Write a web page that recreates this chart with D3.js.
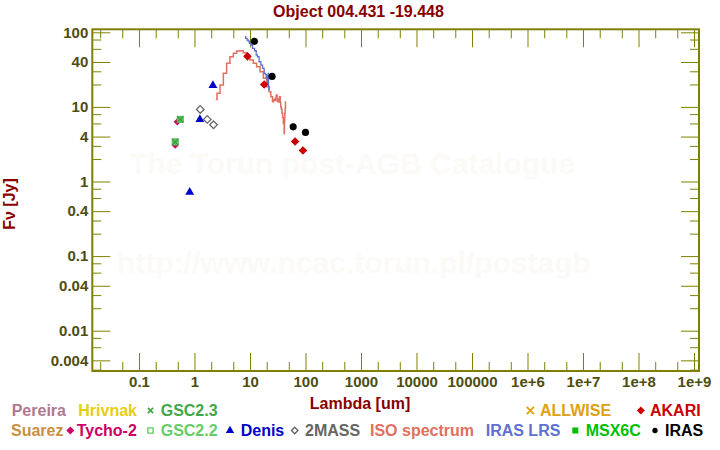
<!DOCTYPE html>
<html>
<head>
<meta charset="utf-8">
<script src="https://cdn.jsdelivr.net/npm/d3@7"></script>
<style>
  body { margin: 0; background: #fff; }
  svg { font-family: "Liberation Sans", Arial, sans-serif; font-weight: bold; }
  .tick text { fill: #4d4d12; font-size: 15px; font-weight: bold; }
  .tick line { stroke: #808000; stroke-width: 1; }
  .domain { display: none; }
</style>
</head>
<body>
<svg width="720" height="450"></svg>
<script>
// axis ticks
var xTickValues = [0.1, 1, 10, 100, 1000, 10000, 100000, 1e6, 1e7, 1e8, 1e9];
var xTickLabels = ["0.1", "1", "10", "100", "1000", "10000", "100000", "1e+6", "1e+7", "1e+8", "1e+9"];
var yTickValues = [100, 40, 10, 4, 1, 0.4, 0.1, 0.04, 0.01, 0.004];
var yTickLabels = ["100", "40", "10", "4", "1", "0.4", "0.1", "0.04", "0.01", "0.004"];

// photometry (lambda in um, flux in Jy)
var irasWl = [12, 25, 60, 100];
var irasFlux = [75.7, 25.6, 5.4, 4.55];
var akariWl = [9, 18, 65, 90];
var akariFlux = [47.6, 20, 3.44, 2.6];
var denisWl = [0.82, 1.25, 2.15];
var denisFlux = [0.72, 6.8, 19.4];
var twomassWl = [1.27, 1.7, 2.2];
var twomassFlux = [9.25, 6.8, 5.75];
var tychoWl = [0.45, 0.49];
var tychoFlux = [3.07, 6.3];
var gsc22Wl = [0.45, 0.555];
var gsc22Flux = [3.4, 6.8];
var gsc23Wl = [0.45, 0.555];
var gsc23Flux = [3.4, 6.8];

// spectra
var isoWl = [2.41, 2.69, 3.09, 3.55, 4.06, 4.68, 5.37, 6.15, 7.08, 8.12, 9.31, 10.7, 12.3, 14.1, 16.3, 18.6,
             21.4, 22.9, 24.6, 26.3, 27.2, 28.2, 29.2, 30.3, 31.3, 32.4, 33.5, 34.7, 35.4, 36.2, 37.2, 38.2,
             39.3, 40.5, 41.0, 41.5, 42.1, 42.7, 43.3, 44.0];
var isoFlux = [12.6, 15.2, 19.6, 28.2, 38.4, 47.0, 52.2, 56.1, 56.6, 53.2, 47.0, 42.5, 38.4, 34.5, 29.6, 24.2,
               18.6, 16.0, 13.7, 11.7, 12.6, 12.3, 13.2, 14.4, 12.0, 11.7, 12.8, 13.7, 11.5, 10.0, 9.3, 8.2,
               7.2, 6.0, 7.0, 4.4, 6.5, 8.2, 9.6, 11.7];
var lrsWl = [8.13, 8.6, 9.1, 9.5, 10.0, 10.7, 11.5, 12.7, 13.2, 14.1, 15.1, 16.3, 17.4, 18.6, 19.3, 20.0,
             20.4, 20.8, 21.1, 21.4, 21.7, 22.0];
var lrsFlux = [87.3, 83.0, 78.9, 76.0, 71.2, 67.6, 61.0, 56.6, 49.5, 47.0, 40.3, 36.4, 32.9, 28.2, 27.0, 24.2,
               26.5, 20.6, 23.5, 28.2, 19.0, 16.8];

var svg = d3.select("svg"),
    margin = {top: 29.3, right: 21, bottom: 79, left: 92.3},
    width = 720 - margin.left - margin.right,
    height = 450 - margin.top - margin.bottom,
    g = svg.append("g").attr("transform", "translate(" + margin.left + "," + margin.top + ")");

var olive = "#808000", darkRed = "#880000";

// Create scales
var x = d3.scaleLog().domain([0.01442, 1.23e9]).range([0, width]);
var y = d3.scaleLog().domain([0.00288, 109.7]).range([height, 0]);

// minor ticks
var xMinor = [];
d3.range(-2, 9).forEach(function(e) { [2, 5].forEach(function(m) { xMinor.push(m * Math.pow(10, e)); }); });
xMinor = xMinor.filter(function(v) { return v > x.domain()[0] && v < x.domain()[1]; });
var yMinor = [];
d3.range(-3, 3).forEach(function(e) { [2, 3, 6, 8].forEach(function(m) { yMinor.push(m * Math.pow(10, e)); }); });
yMinor = yMinor.filter(function(v) { return v > y.domain()[0] && v < y.domain()[1]; });

// Watermark
svg.append("text").attr("x", 352).attr("y", 174).attr("text-anchor", "middle")
    .attr("font-size", 30).attr("fill", "#fbfaf6").text("The Torun post-AGB Catalogue");
svg.append("text").attr("x", 354).attr("y", 273).attr("text-anchor", "middle")
    .attr("font-size", 30).attr("fill", "#fbfaf6").text("http://www.ncac.torun.pl/postagb");

// Add axes (ticks point inward)
var xFmt = function(d) { return xTickLabels[xTickValues.indexOf(d)]; };
var yFmt = function(d) { return yTickLabels[yTickValues.indexOf(d)]; };

g.append("g").attr("transform", "translate(0," + height + ")")
    .call(d3.axisBottom(x).tickValues(xTickValues).tickSize(-18).tickPadding(5).tickFormat(xFmt));
g.append("g").attr("transform", "translate(0," + height + ")")
    .call(d3.axisBottom(x).tickValues(xMinor).tickSize(-9).tickFormat(""));
g.append("g")
    .call(d3.axisTop(x).tickValues(xTickValues).tickSize(-18).tickFormat(""));
g.append("g")
    .call(d3.axisTop(x).tickValues(xMinor).tickSize(-9).tickFormat(""));

g.append("g")
    .call(d3.axisLeft(y).tickValues(yTickValues).tickSize(-18).tickPadding(4).tickFormat(yFmt));
g.append("g")
    .call(d3.axisLeft(y).tickValues(yMinor).tickSize(-9).tickFormat(""));
g.append("g").attr("transform", "translate(" + width + ",0)")
    .call(d3.axisRight(y).tickValues(yTickValues).tickSize(-18).tickFormat(""));
g.append("g").attr("transform", "translate(" + width + ",0)")
    .call(d3.axisRight(y).tickValues(yMinor).tickSize(-9).tickFormat(""));

// frame
g.append("rect").attr("width", width).attr("height", height)
    .attr("fill", "none").attr("stroke", olive).attr("stroke-width", 2);

// spectra (stepped, like the sampled spectrum in the original)
var line = d3.line().curve(d3.curveStep)
    .x(function(d) { return x(d[0]); }).y(function(d) { return y(d[1]); });
g.append("path").datum(d3.zip(isoWl, isoFlux))
    .attr("d", line).attr("fill", "none").attr("stroke", "#e07060").attr("stroke-width", 1.5);
g.append("path").datum(d3.zip(lrsWl, lrsFlux))
    .attr("d", line).attr("fill", "none").attr("stroke", "#5b6fd0").attr("stroke-width", 1.3);

function diamond(r) { return "M0," + (-r) + "L" + r + ",0L0," + r + "L" + (-r) + ",0Z"; }
function cross(r) { return "M" + (-r) + "," + (-r) + "L" + r + "," + r + "M" + r + "," + (-r) + "L" + (-r) + "," + r; }

function addPoints(wl, flux, path, fill, stroke, sw) {
    g.selectAll(null)
        .data(d3.zip(wl, flux))
        .enter().append("path")
        .attr("transform", function(d) { return "translate(" + x(d[0]) + "," + y(d[1]) + ")"; })
        .attr("d", path)
        .attr("fill", fill)
        .attr("stroke", stroke || "none")
        .attr("stroke-width", sw || 0);
}

// Add points
addPoints(tychoWl, tychoFlux, diamond(3.6), "#cc0066");
addPoints(gsc22Wl, gsc22Flux, "M-3.6,-3.6H3.6V3.6H-3.6Z", "#5cbf5c");
addPoints(gsc23Wl, gsc23Flux, cross(3), "none", "#3f9a44", 1.2);
addPoints(denisWl, denisFlux, d3.symbol(d3.symbolTriangle, 34)(), "#0000cc");
addPoints(twomassWl, twomassFlux, diamond(3.8), "#fff", "#666", 1.3);
addPoints(akariWl, akariFlux, diamond(4.3), "#cc0000");
addPoints(irasWl, irasFlux, d3.symbol(d3.symbolCircle, 40)(), "#000");

// Title and axis labels
svg.append("text").attr("x", 358.5).attr("y", 17).attr("text-anchor", "middle")
    .attr("font-size", 16).attr("fill", darkRed).text("Object 004.431 -19.448");
svg.append("text").attr("x", 360).attr("y", 409).attr("text-anchor", "middle")
    .attr("font-size", 16).attr("fill", darkRed).text("Lambda [um]");
svg.append("text").attr("transform", "translate(15,204) rotate(-90)").attr("text-anchor", "middle")
    .attr("font-size", 16).attr("fill", darkRed).text("F\u03bd [Jy]");

// Legend
var legendNames = ["Pereira", "Hrivnak", "GSC2.3", "ALLWISE", "AKARI",
                   "Suarez", "Tycho-2", "GSC2.2", "Denis", "2MASS", "ISO spectrum", "IRAS LRS", "MSX6C", "IRAS"];
var legendColors = ["#b07890", "#e8cc10", "#40a848", "#e0a010", "#cc0000",
                    "#c89040", "#cc0066", "#66cc66", "#0000cc", "#666666", "#e07060", "#6070d0", "#00c000", "#000000"];
var legendX = [11.7, 78.3, 160.7, 540, 650, 11, 76.7, 160.7, 240.7, 305, 370, 485.7, 585.7, 665];
var legendRow = [0, 0, 0, 0, 0, 1, 1, 1, 1, 1, 1, 1, 1, 1];
var legendSym = [null, null, cross(2.6), cross(3.6), diamond(4), null, diamond(4), "M-2.6,-2.6H2.6V2.6H-2.6Z",
                 d3.symbol(d3.symbolTriangle, 30)(), diamond(3.2), null, null, "M-3,-3H3V3H-3Z", d3.symbol(d3.symbolCircle, 22)()];
var legendSymX = [0, 0, 150.5, 530.3, 640.8, 0, 70.3, 150.5, 230, 294.7, 0, 0, 575.3, 655];

var leg = svg.append("g");
legendNames.forEach(function(name, i) {
    var by = legendRow[i] ? 436 : 416;
    leg.append("text").attr("x", legendX[i]).attr("y", by)
        .attr("font-size", 16).attr("fill", legendColors[i]).text(name);
    if (legendSym[i]) {
        var open = name === "GSC2.2" || name === "2MASS";
        var isCross = name === "GSC2.3" || name === "ALLWISE";
        leg.append("path")
            .attr("transform", "translate(" + legendSymX[i] + "," + (by - 5.5) + ")")
            .attr("d", legendSym[i])
            .attr("fill", open || isCross ? "none" : legendColors[i])
            .attr("stroke", open || isCross ? legendColors[i] : "none")
            .attr("stroke-width", isCross ? 1.8 : 1.4);
    }
});
</script>
</body>
</html>
